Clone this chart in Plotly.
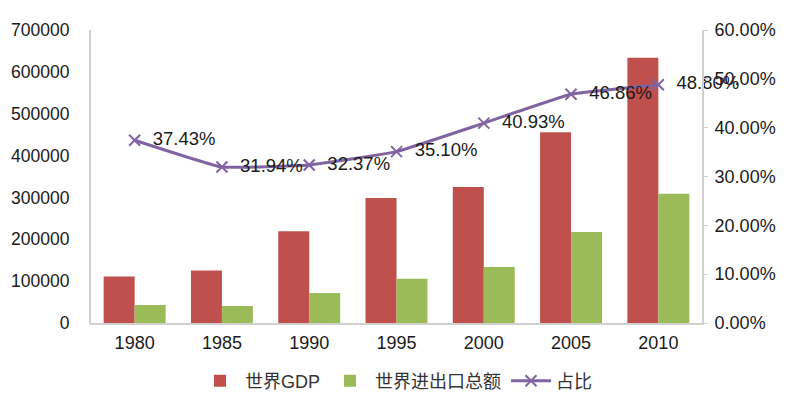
import plotly.graph_objects as go

years = ["1980", "1985", "1990", "1995", "2000", "2005", "2010"]
gdp = [111000, 125500, 219000, 298500, 325000, 456000, 633500]
trade = [43000, 40500, 71500, 106000, 134000, 217500, 309000]
ratio = [0.3743, 0.3194, 0.3237, 0.3510, 0.4093, 0.4686, 0.4880]
ratio_labels = ["37.43%", "31.94%", "32.37%", "35.10%", "40.93%", "46.86%", "48.80%"]

FONT = "Liberation Sans, Arial, Noto Sans CJK SC"
AXIS_COLOR = "#D0D0D0"

fig = go.Figure()
fig.add_trace(go.Bar(x=years, y=gdp, name="世界GDP", marker_color="#C0504D",
                     marker_line_width=0))
fig.add_trace(go.Bar(x=years, y=trade, name="世界进出口总额", marker_color="#9BBB59",
                     marker_line_width=0))
fig.add_trace(go.Scatter(x=years, y=ratio, name="占比", yaxis="y2",
                         mode="lines+markers+text",
                         line=dict(color="#8064A2", width=3, shape="spline", smoothing=0.3),
                         marker=dict(symbol="x-thin", size=11,
                                     line=dict(color="#8064A2", width=2)),
                         text=["  " + t for t in ratio_labels],
                         textposition="middle right",
                         textfont=dict(size=18.5, color="#1a1a1a", family=FONT),
                         cliponaxis=False))

fig.update_layout(
    width=786, height=399,
    margin=dict(l=83, r=92, t=22, b=84, autoexpand=False),
    paper_bgcolor="white", plot_bgcolor="white",
    font=dict(family=FONT, size=18, color="#1a1a1a"),
    barmode="group", bargap=0.29, bargroupgap=0,
    showlegend=True,
    legend=dict(orientation="h", x=0.5, xanchor="center", y=-0.135, yanchor="top",
                font=dict(size=18, color="#333333"), itemwidth=40,
                traceorder="normal"),
    xaxis=dict(showline=True, linecolor=AXIS_COLOR, linewidth=2, ticks="",
               showgrid=False, automargin=False, ticklabelstandoff=2),
    yaxis=dict(range=[0, 700000], dtick=100000, showline=True, linecolor=AXIS_COLOR,
               linewidth=2, showgrid=False, zeroline=False, ticks="",
               tickformat="d", ticklabelstandoff=16, automargin=False,
               tickfont=dict(size=17.5)),
    yaxis2=dict(range=[0, 0.6], dtick=0.1, overlaying="y", side="right",
                showline=True, linecolor=AXIS_COLOR, linewidth=2, showgrid=False,
                zeroline=False, ticks="outside", ticklen=4, tickcolor=AXIS_COLOR,
                tickformat=".2%", automargin=False, ticklabelstandoff=3),
)

fig.write_html("out.html")
